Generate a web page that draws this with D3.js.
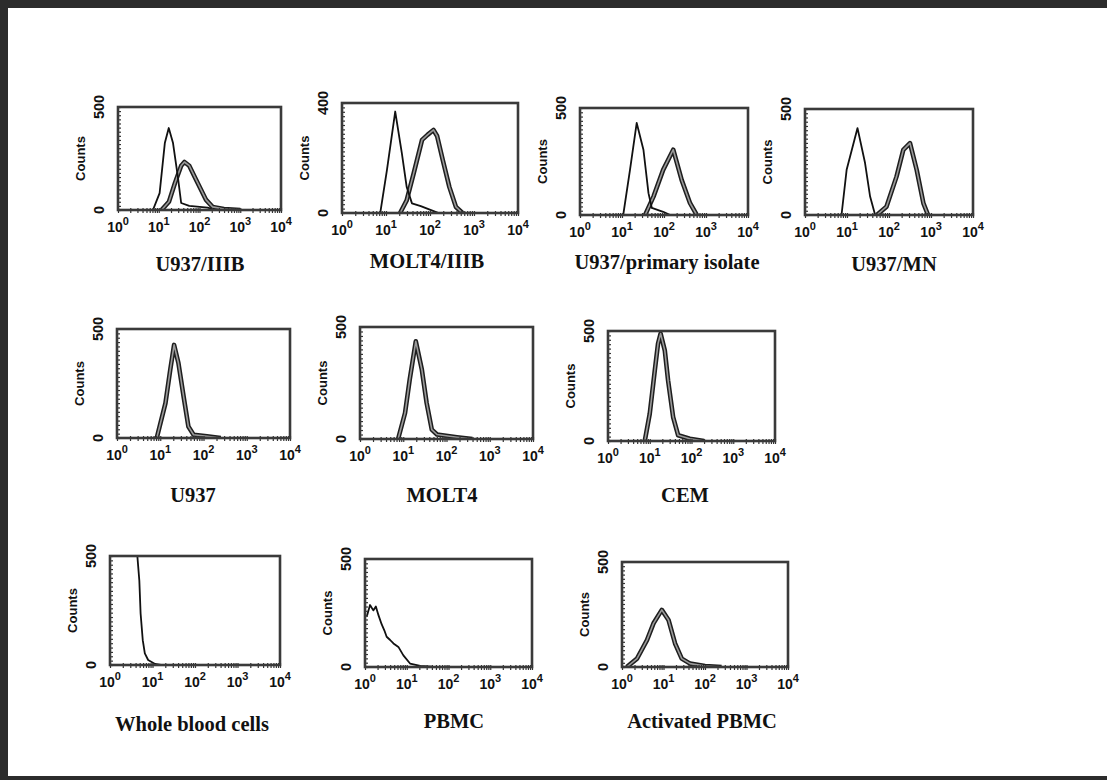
<!DOCTYPE html>
<html>
<head>
<meta charset="utf-8">
<script src="https://cdn.jsdelivr.net/npm/d3@7"></script>
<style>
  body { margin: 0; background: #fff; }
  svg { display: block; }
</style>
</head>
<body>
<svg id="fig" width="1107" height="780"></svg>
<script>
// ---- Panel labels and axis ranges ----
const panelTitles = [
  "U937/IIIB", "MOLT4/IIIB", "U937/primary isolate", "U937/MN",
  "U937", "MOLT4", "CEM",
  "Whole blood cells", "PBMC", "Activated PBMC"
];
const countMax = [500, 400, 500, 500, 500, 500, 500, 500, 500, 500];
const decadeTicks = [1, 10, 100, 1000, 10000];
const decadeExponents = ["0", "1", "2", "3", "4"];

// ---- Histograms: [fluorescence intensity, counts] ----
// Control (thin) traces
const u937IIIB_control = [[7.2,0],[10.5,82],[14.1,325],[17.6,398],[22.4,325],[29.5,160],[35.5,34],[56,20],[158,12],[251,0]];
const molt4IIIB_control = [[7.4,0],[10.5,156],[16.2,369],[22.9,218],[29.5,95],[38.9,35],[61.7,25],[117,8],[158,0]];
const u937Primary_control = [[10.7,0],[15.5,211],[22.4,430],[32.4,305],[42.7,102],[51.3,33],[95.5,15],[141,0]];
const u937MN_control = [[7.4,0],[9.8,213],[17.8,410],[26.9,245],[35.5,87],[46.8,0]];
const wholeBlood_trace = [[3.0,2000],[4.2,700],[4.4,500],[4.9,387],[5.25,236],[5.9,114],[6.6,53],[7.9,23],[11.5,5],[15.8,0]];
const pbmc_trace = [[1.1,233],[1.32,287],[1.58,262],[1.82,280],[2.1,240],[2.5,198],[2.9,170],[3.3,140],[4.0,125],[4.8,109],[6.3,93],[8.3,54],[12,16],[21,5],[40,2],[100,0]];

// Stained (thick) traces
const u937IIIB_stained = [[11.7,0],[17.8,40],[25,131],[35.5,215],[42.7,233],[56,215],[83,146],[145,49],[209,15],[398,5],[1000,0]];
const molt4IIIB_stained = [[20.9,0],[29.5,46],[42.7,145],[66,266],[89,285],[120,302],[145,280],[195,193],[275,95],[389,22],[550,0]];
const u937Primary_stained = [[35.5,0],[56.2,86],[95.5,211],[166,305],[263,164],[417,55],[603,0]];
const u937MN_stained = [[51.3,0],[87,39],[151,181],[219,307],[316,339],[457,212],[661,55],[851,0]];
const u937_stained = [[8.3,0],[13.2,160],[17,312],[20.9,427],[26.3,344],[34.7,190],[44.7,53],[58.9,15],[120,8],[251,0]];
const molt4_stained = [[7.6,0],[11,116],[14.1,265],[19.5,436],[26.9,310],[34.7,161],[45.7,42],[60.3,20],[174,8],[398,0]];
const cem_stained = [[7.6,0],[10,124],[13.2,320],[15.8,443],[18.2,488],[22.9,412],[27.5,275],[36.3,109],[47.9,26],[91,10],[200,0]];
const activatedPBMC_stained = [[1.3,0],[2.3,40],[4.0,128],[5.75,208],[9.1,272],[13.2,224],[19,112],[27.5,40],[43.7,16],[100,5],[251,0]];

const thinTraces = [u937IIIB_control, molt4IIIB_control, u937Primary_control, u937MN_control,
                    null, null, null, wholeBlood_trace, pbmc_trace, null];
const thickTraces = [u937IIIB_stained, molt4IIIB_stained, u937Primary_stained, u937MN_stained,
                     u937_stained, molt4_stained, cem_stained, null, null, activatedPBMC_stained];

// ---- Page layout: plot boxes [left, top, right, bottom] and title anchors ----
const boxes = [
  [118,107,281,210], [342,103,518,213], [580,108,748,215], [805,109,973,215],
  [117,329,290,438], [360,327,533,439], [608,331,775,441],
  [110,556,280,665], [365,559,532,667], [622,562,788,667]
];
const titleAnchors = [
  [200,271], [427,268], [667,269], [894,271],
  [193,502], [442,502], [685,502],
  [192,731], [454,728], [702,728]
];

const svg = d3.select("#fig");

// dark scanned frame along the top, left and bottom edges
svg.append("rect").attr("x",0).attr("y",0).attr("width",1107).attr("height",780).attr("fill","#2c2c2c");
svg.append("rect").attr("x",8).attr("y",8).attr("width",1099).attr("height",768).attr("fill","#fff");

const sansBold = "'Liberation Sans', Arial, sans-serif";
const serifBold = "'Liberation Serif', 'Times New Roman', serif";

panelTitles.forEach((title, i) => {
  const [l, t, r, b] = boxes[i];
  const w = r - l, h = b - t;
  const g = svg.append("g").attr("transform", `translate(${l},${t})`);

  const x = d3.scaleLog().domain([1, 10000]).range([0, w]);
  const y = d3.scaleLinear().domain([0, countMax[i]]).range([h, 0]);

  const clipId = "clip" + i;
  g.append("clipPath").attr("id", clipId)
    .append("rect").attr("x", 0).attr("y", 0).attr("width", w).attr("height", h);

  const line = d3.line().x(d => x(d[0])).y(d => y(d[1])).curve(d3.curveLinear);
  const plot = g.append("g").attr("clip-path", `url(#${clipId})`);

  if (thickTraces[i]) {
    plot.append("path").datum(thickTraces[i]).attr("d", line)
      .attr("fill", "none").attr("stroke", "#1e1e1e").attr("stroke-width", 4.6)
      .attr("stroke-linejoin", "round");
    plot.append("path").datum(thickTraces[i]).attr("d", line)
      .attr("fill", "none").attr("stroke", "#9a9a9a").attr("stroke-width", 1.6)
      .attr("stroke-linejoin", "round");
  }
  if (thinTraces[i]) {
    plot.append("path").datum(thinTraces[i]).attr("d", line)
      .attr("fill", "none").attr("stroke", "#111").attr("stroke-width", 1.8)
      .attr("stroke-linejoin", "round");
  }

  // count axis: dense inner ticks
  const yTicks = d3.range(0, countMax[i] + 0.01, countMax[i] / 25);
  const yAxis = g.append("g").call(d3.axisRight(y).tickValues(yTicks).tickSize(3).tickFormat(""));
  yAxis.select(".domain").remove();
  yAxis.selectAll("line").attr("stroke", "#333").attr("stroke-width", 1.2);

  // log fluorescence axis: minor ticks per decade
  const minor = [];
  [1, 10, 100, 1000].forEach(d => d3.range(2, 10).forEach(m => minor.push(d * m)));
  const xAxis = g.append("g").attr("transform", `translate(0,${h})`)
    .call(d3.axisBottom(x).tickValues(minor.concat(decadeTicks)).tickSize(3).tickFormat(""));
  xAxis.select(".domain").remove();
  xAxis.selectAll("line").attr("stroke", "#333").attr("stroke-width", 1.2).attr("y1", -2);

  // plot frame
  g.append("rect").attr("x", 0).attr("y", 0).attr("width", w).attr("height", h)
    .attr("fill", "none").attr("stroke", "#3a3a3a").attr("stroke-width", 2.6);

  // decade labels 10^n
  decadeTicks.forEach((v, k) => {
    const tx = g.append("text")
      .attr("x", x(v)).attr("y", h + 22)
      .attr("text-anchor", "middle")
      .attr("font-family", sansBold).attr("font-weight", "bold")
      .attr("font-size", 14).attr("fill", "#111");
    tx.append("tspan").text("10");
    tx.append("tspan").attr("dy", -7).attr("font-size", 11).text(decadeExponents[k]);
  });

  // count labels, rotated
  [[0, h], [countMax[i], 0]].forEach(([v, py]) => {
    g.append("text")
      .attr("transform", `translate(-14,${py}) rotate(-90)`)
      .attr("text-anchor", "middle")
      .attr("font-family", sansBold).attr("font-weight", "bold")
      .attr("font-size", 14.5).attr("fill", "#111")
      .text(v);
  });

  g.append("text")
    .attr("transform", `translate(-33,${h / 2}) rotate(-90)`)
    .attr("text-anchor", "middle")
    .attr("font-family", sansBold).attr("font-weight", "bold")
    .attr("font-size", 13).attr("fill", "#111")
    .text("Counts");

  svg.append("text")
    .attr("x", titleAnchors[i][0]).attr("y", titleAnchors[i][1])
    .attr("text-anchor", "middle")
    .attr("font-family", serifBold).attr("font-weight", "bold")
    .attr("font-size", 20.5).attr("fill", "#111")
    .text(title);
});
</script>
</body>
</html>
